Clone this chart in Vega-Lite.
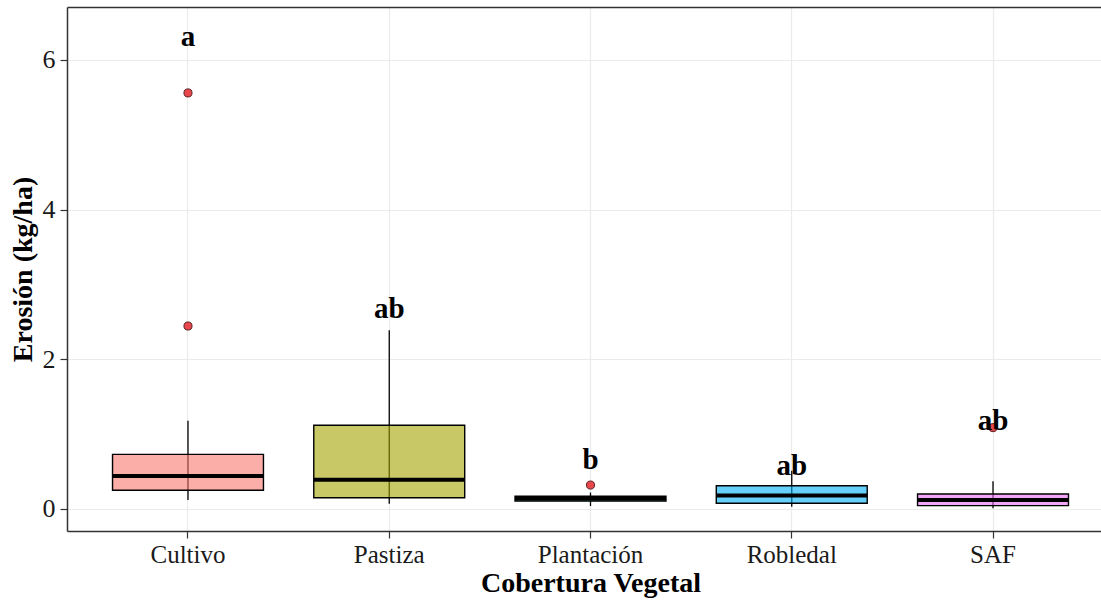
{
  "$schema": "https://vega.github.io/schema/vega-lite/v6.json",
  "autosize": {"type": "none"},
  "width": 1034,
  "height": 524,
  "padding": {"left": 67, "top": 7, "right": 0, "bottom": 74},
  "background": "white",
  "config": {
    "view": {"stroke": null},
    "font": "Liberation Serif",
    "axis": {
      "labelFont": "Liberation Serif",
      "titleFont": "Liberation Serif",
      "labelColor": "#1a1a1a",
      "titleColor": "#000000",
      "domainColor": "#333333",
      "domainWidth": 1.5,
      "tickColor": "#333333",
      "tickWidth": 1.2,
      "tickSize": 7,
      "gridColor": "#EBEBEB",
      "gridWidth": 1.2
    }
  },
  "datasets": {
    "boxes": [
      {"cobertura": "Cultivo", "lower": 0.12, "q1": 0.25, "median": 0.44, "q3": 0.73, "upper": 1.18, "letra": "a", "letra_y": 6.19},
      {"cobertura": "Pastiza", "lower": 0.07, "q1": 0.15, "median": 0.39, "q3": 1.12, "upper": 2.39, "letra": "ab", "letra_y": 2.556},
      {"cobertura": "Plantación", "lower": 0.04, "q1": 0.105, "median": 0.137, "q3": 0.17, "upper": 0.22, "letra": "b", "letra_y": 0.53},
      {"cobertura": "Robledal", "lower": 0.03, "q1": 0.076, "median": 0.18, "q3": 0.31, "upper": 0.51, "letra": "ab", "letra_y": 0.454},
      {"cobertura": "SAF", "lower": 0.01, "q1": 0.045, "median": 0.12, "q3": 0.2, "upper": 0.37, "letra": "ab", "letra_y": 1.056}
    ],
    "outliers": [
      {"cobertura": "Cultivo", "erosion": 5.56},
      {"cobertura": "Cultivo", "erosion": 2.445},
      {"cobertura": "Plantación", "erosion": 0.32},
      {"cobertura": "SAF", "erosion": 1.087}
    ]
  },
  "resolve": {"axis": {"x": "independent"}},
  "layer": [
    {
      "data": {"name": "boxes"},
      "mark": {"type": "rule", "color": "#000000", "strokeWidth": 1.3},
      "encoding": {
        "x": {
          "field": "cobertura", "type": "nominal",
          "sort": ["Cultivo", "Pastiza", "Plantación", "Robledal", "SAF"],
          "scale": {"range": [0, 1047], "paddingInner": 0.25, "paddingOuter": 0.2262},
          "axis": {
            "orient": "bottom",
            "title": "Cobertura Vegetal",
            "titleFontSize": 28,
            "titleFontWeight": "bold",
            "titlePadding": 2,
            "labelFontSize": 25,
            "labelPadding": 4,
            "labelAngle": 0,
            "grid": true,
            "bandPosition": 0.5
          }
        },
        "y": {
          "field": "lower", "type": "quantitative",
          "scale": {"domain": [-0.294, 6.708], "nice": false, "zero": false},
          "axis": {
            "values": [0, 2, 4, 6],
            "format": "d",
            "title": "Erosión (kg/ha)",
            "titleFontSize": 28,
            "titleFontWeight": "bold",
            "titlePadding": 5,
            "labelFontSize": 26,
            "labelPadding": 5,
            "grid": true
          }
        },
        "y2": {"field": "upper"}
      }
    },
    {
      "data": {"name": "boxes"},
      "mark": {"type": "bar", "fillOpacity": 0.6, "stroke": "#000000", "strokeWidth": 1.4},
      "encoding": {
        "x": {
          "field": "cobertura", "type": "nominal",
          "sort": ["Cultivo", "Pastiza", "Plantación", "Robledal", "SAF"],
          "axis": {"orient": "top", "labels": false, "ticks": false, "title": null, "grid": false, "domain": true}
        },
        "y": {"field": "q1", "type": "quantitative"},
        "y2": {"field": "q3"},
        "fill": {
          "field": "cobertura", "type": "nominal",
          "scale": {
            "domain": ["Cultivo", "Pastiza", "Plantación", "Robledal", "SAF"],
            "range": ["#F8766D", "#A3A500", "#00BF7D", "#00B0F6", "#E76BF3"]
          },
          "legend": null
        }
      }
    },
    {
      "data": {"name": "boxes"},
      "mark": {"type": "tick", "color": "#000000", "thickness": 4, "size": 151, "opacity": 1},
      "encoding": {
        "x": {"field": "cobertura", "type": "nominal", "sort": ["Cultivo", "Pastiza", "Plantación", "Robledal", "SAF"], "axis": null},
        "y": {"field": "median", "type": "quantitative"}
      }
    },
    {
      "data": {"name": "outliers"},
      "mark": {"type": "point", "shape": "circle", "filled": true, "fill": "#E8474C", "stroke": "#5A2020", "strokeWidth": 1, "size": 65, "opacity": 1},
      "encoding": {
        "x": {"field": "cobertura", "type": "nominal", "sort": ["Cultivo", "Pastiza", "Plantación", "Robledal", "SAF"], "axis": null},
        "y": {"field": "erosion", "type": "quantitative"}
      }
    },
    {
      "data": {"name": "boxes"},
      "mark": {"type": "text", "font": "Liberation Serif", "fontWeight": "bold", "fontSize": 29, "color": "#000000", "baseline": "alphabetic", "align": "center"},
      "encoding": {
        "x": {"field": "cobertura", "type": "nominal", "sort": ["Cultivo", "Pastiza", "Plantación", "Robledal", "SAF"], "axis": null},
        "y": {"field": "letra_y", "type": "quantitative"},
        "text": {"field": "letra"}
      }
    }
  ]
}
